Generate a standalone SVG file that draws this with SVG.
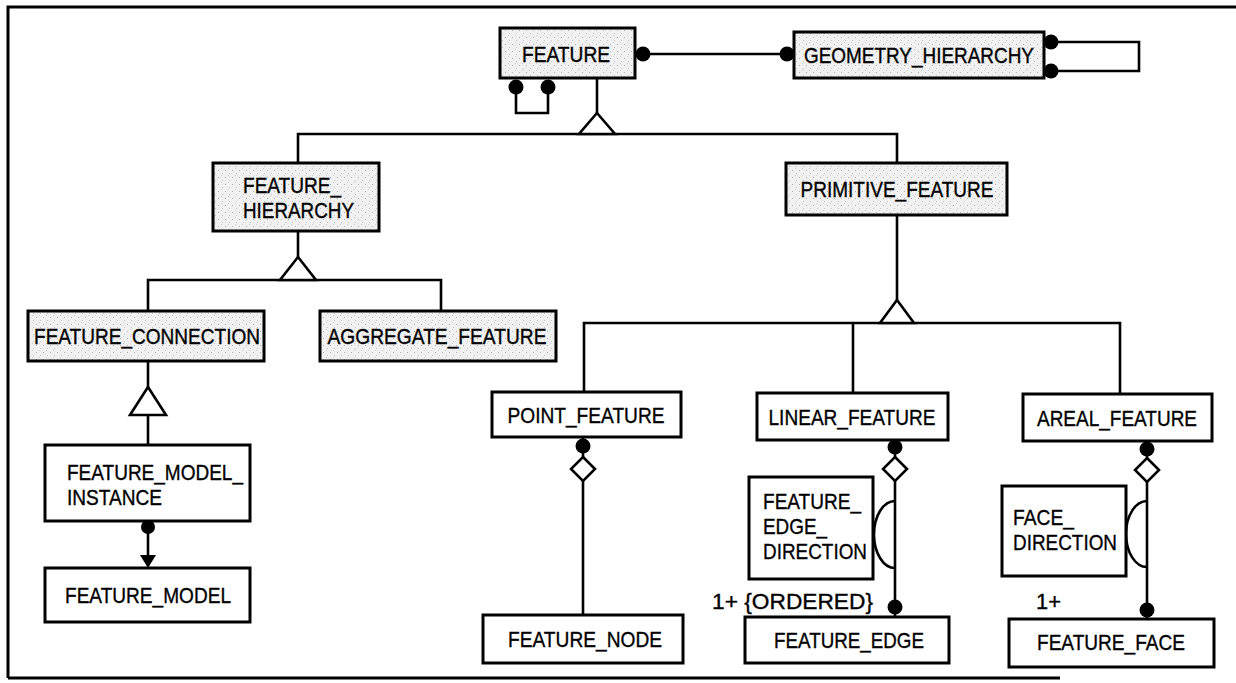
<svg xmlns="http://www.w3.org/2000/svg" width="1236" height="683" viewBox="0 0 1236 683">
<style>
.box{fill:#fff;stroke:#000;stroke-width:3}
.sh{fill:url(#stip);stroke:#000;stroke-width:3}
.lbl{font-family:"Liberation Sans Narrow","Liberation Sans",Arial,sans-serif;font-size:22px;fill:#000;stroke:#000;stroke-width:0.35}
.card{font-family:"Liberation Sans",Arial,sans-serif;font-size:22px;fill:#000;stroke:#000;stroke-width:0.35}
.ln{fill:none;stroke:#000;stroke-width:2.6}
.dot{fill:#000}
.dia{fill:#fff;stroke:#000;stroke-width:2.6}
.tri{fill:#fff;stroke:#000;stroke-width:2.6;stroke-linejoin:miter}
.frame{fill:none;stroke:#000;stroke-width:3}
</style>
<defs>
<pattern id="stip" width="7" height="7" patternUnits="userSpaceOnUse">
<rect width="7" height="7" fill="#f1f1f1"/>
<rect x="1" y="2" width="1" height="1" fill="#b0b0b0"/>
<rect x="5" y="5" width="1" height="1" fill="#c4c4c4"/>
<rect x="4" y="0" width="1" height="1" fill="#d0d0d0"/>
</pattern>
</defs>
<rect width="1236" height="683" fill="#fff"/>
<g id="frame">
<path class="frame" d="M8,678 V7 H1236"/>
<path class="frame" d="M8,678 H1060"/>
</g>
<g id="connectors">
<line class="ln" x1="643" y1="54" x2="787" y2="54"/>
<circle class="dot" cx="643" cy="54" r="7.5"/>
<circle class="dot" cx="787" cy="54" r="7.5"/>
<path class="ln" d="M1051,42 H1139 V71 H1051"/>
<circle class="dot" cx="1051" cy="42" r="7.5"/>
<circle class="dot" cx="1051" cy="71" r="7.5"/>
<path class="ln" d="M516,88 V113 H548 V88"/>
<circle class="dot" cx="516" cy="87" r="7.5"/>
<circle class="dot" cx="548" cy="87" r="7.5"/>
<line class="ln" x1="597" y1="78" x2="597" y2="113"/>
<path class="ln" d="M298,163 V134 H897 V163"/>
<path class="tri" d="M597,113 L615,134 H579 Z"/>
<line class="ln" x1="298" y1="231" x2="298" y2="257"/>
<path class="ln" d="M148,311 V280 H441 V311"/>
<path class="tri" d="M298,257 L316,280 H280 Z"/>
<line class="ln" x1="897" y1="215" x2="897" y2="300"/>
<path class="ln" d="M584,392 V323 H1120 V394"/>
<line class="ln" x1="853" y1="323" x2="853" y2="393"/>
<path class="tri" d="M897,300 L914,323 H880 Z"/>
<line class="ln" x1="148" y1="361" x2="148" y2="445"/>
<path class="tri" d="M148,387 L166,415 H130 Z"/>
<line class="ln" x1="148" y1="527" x2="148" y2="556"/>
<circle class="dot" cx="148" cy="527" r="7"/>
<path class="dot" d="M140,555 H156 L148,568 Z"/>
<line class="ln" x1="583" y1="437" x2="583" y2="615"/>
<circle class="dot" cx="583" cy="446" r="7.5"/>
<path class="dia" d="M583,457 L595,469 L583,481 L571,469 Z"/>
<line class="ln" x1="895" y1="440" x2="895" y2="617"/>
<circle class="dot" cx="895" cy="447" r="7.5"/>
<path class="dia" d="M895,457 L907,469 L895,481 L883,469 Z"/>
<path class="ln" d="M895,501 A21,33.5 0 0 0 895,568"/>
<circle class="dot" cx="895" cy="607" r="7.5"/>
<line class="ln" x1="1147" y1="441" x2="1147" y2="619"/>
<circle class="dot" cx="1147" cy="449" r="7.5"/>
<path class="dia" d="M1147,458 L1159,470 L1147,482 L1135,470 Z"/>
<path class="ln" d="M1147,501 A21,33 0 0 0 1147,567"/>
<circle class="dot" cx="1147" cy="610" r="7.5"/>
</g>
<g id="FEATURE">
<rect class="sh" x="500" y="28" width="135" height="50"/>
<text class="lbl" x="566" y="62" text-anchor="middle" textLength="88" lengthAdjust="spacingAndGlyphs">FEATURE</text>
</g>
<g id="GEOMETRY_HIERARCHY">
<rect class="sh" x="794" y="32" width="250" height="46"/>
<text class="lbl" x="919" y="63" text-anchor="middle" textLength="230" lengthAdjust="spacingAndGlyphs">GEOMETRY_HIERARCHY</text>
</g>
<g id="FEATURE_HIERARCHY">
<rect class="sh" x="213" y="163" width="166" height="68"/>
<text class="lbl" x="243" y="193" textLength="98" lengthAdjust="spacingAndGlyphs">FEATURE_</text>
<text class="lbl" x="243" y="218" textLength="111" lengthAdjust="spacingAndGlyphs">HIERARCHY</text>
</g>
<g id="PRIMITIVE_FEATURE">
<rect class="sh" x="786" y="163" width="221" height="52"/>
<text class="lbl" x="897" y="197" text-anchor="middle" textLength="193" lengthAdjust="spacingAndGlyphs">PRIMITIVE_FEATURE</text>
</g>
<g id="FEATURE_CONNECTION">
<rect class="sh" x="28" y="311" width="236" height="50"/>
<text class="lbl" x="147" y="344" text-anchor="middle" textLength="226" lengthAdjust="spacingAndGlyphs">FEATURE_CONNECTION</text>
</g>
<g id="AGGREGATE_FEATURE">
<rect class="sh" x="320" y="311" width="236" height="50"/>
<text class="lbl" x="437" y="344" text-anchor="middle" textLength="219" lengthAdjust="spacingAndGlyphs">AGGREGATE_FEATURE</text>
</g>
<g id="FEATURE_MODEL_INSTANCE">
<rect class="box" x="45" y="445" width="205" height="76"/>
<text class="lbl" x="67" y="480" textLength="176" lengthAdjust="spacingAndGlyphs">FEATURE_MODEL_</text>
<text class="lbl" x="67" y="505" textLength="95" lengthAdjust="spacingAndGlyphs">INSTANCE</text>
</g>
<g id="FEATURE_MODEL">
<rect class="box" x="45" y="568" width="205" height="54"/>
<text class="lbl" x="148" y="603" text-anchor="middle" textLength="166" lengthAdjust="spacingAndGlyphs">FEATURE_MODEL</text>
</g>
<g id="POINT_FEATURE">
<rect class="box" x="492" y="392" width="189" height="45"/>
<text class="lbl" x="586" y="423" text-anchor="middle" textLength="157" lengthAdjust="spacingAndGlyphs">POINT_FEATURE</text>
</g>
<g id="LINEAR_FEATURE">
<rect class="box" x="757" y="393" width="191" height="47"/>
<text class="lbl" x="852" y="425" text-anchor="middle" textLength="167" lengthAdjust="spacingAndGlyphs">LINEAR_FEATURE</text>
</g>
<g id="AREAL_FEATURE">
<rect class="box" x="1023" y="394" width="189" height="47"/>
<text class="lbl" x="1117" y="426" text-anchor="middle" textLength="160" lengthAdjust="spacingAndGlyphs">AREAL_FEATURE</text>
</g>
<g id="FEATURE_NODE">
<rect class="box" x="483" y="615" width="200" height="48"/>
<text class="lbl" x="585" y="647" text-anchor="middle" textLength="154" lengthAdjust="spacingAndGlyphs">FEATURE_NODE</text>
</g>
<g id="FEATURE_EDGE_DIRECTION">
<rect class="box" x="749" y="477" width="124" height="102"/>
<text class="lbl" x="763" y="509" textLength="98" lengthAdjust="spacingAndGlyphs">FEATURE_</text>
<text class="lbl" x="763" y="534" textLength="64" lengthAdjust="spacingAndGlyphs">EDGE_</text>
<text class="lbl" x="763" y="559" textLength="104" lengthAdjust="spacingAndGlyphs">DIRECTION</text>
</g>
<g id="FEATURE_EDGE">
<rect class="box" x="745" y="617" width="204" height="46"/>
<text class="lbl" x="849" y="648" text-anchor="middle" textLength="150" lengthAdjust="spacingAndGlyphs">FEATURE_EDGE</text>
</g>
<g id="FACE_DIRECTION">
<rect class="box" x="1002" y="486" width="124" height="90"/>
<text class="lbl" x="1013" y="525" textLength="61" lengthAdjust="spacingAndGlyphs">FACE_</text>
<text class="lbl" x="1013" y="550" textLength="104" lengthAdjust="spacingAndGlyphs">DIRECTION</text>
</g>
<g id="FEATURE_FACE">
<rect class="box" x="1009" y="619" width="205" height="48"/>
<text class="lbl" x="1111" y="650" text-anchor="middle" textLength="148" lengthAdjust="spacingAndGlyphs">FEATURE_FACE</text>
</g>
<g id="labels">
<text class="card" x="712" y="609" textLength="161" lengthAdjust="spacingAndGlyphs">1+ {ORDERED}</text>
<text class="card" x="1036" y="609" textLength="25" lengthAdjust="spacingAndGlyphs">1+</text>
</g>
</svg>
